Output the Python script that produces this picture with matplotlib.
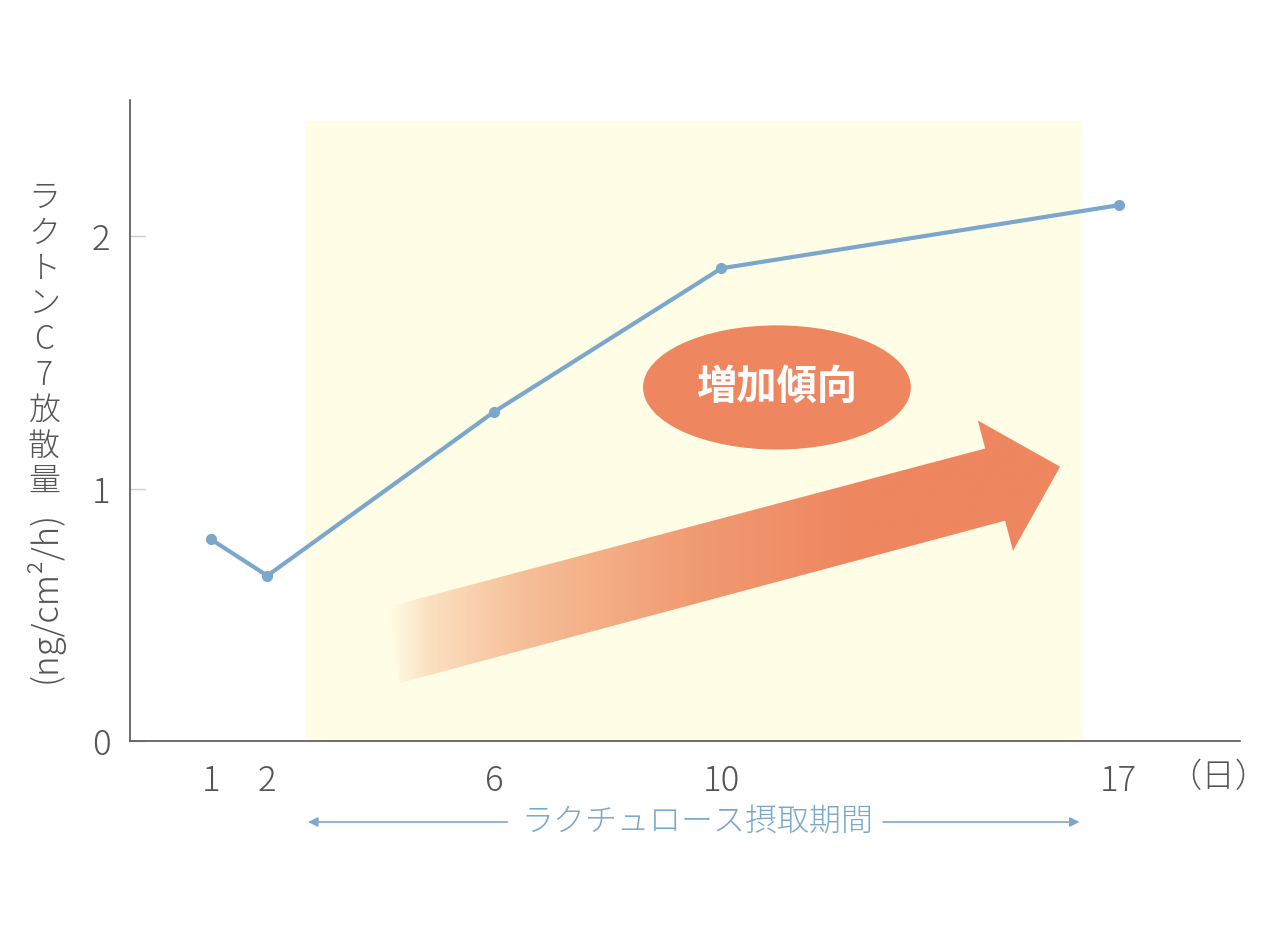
import matplotlib
matplotlib.use("Agg")
import matplotlib.pyplot as plt
import numpy as np
from matplotlib.patches import Polygon, Ellipse
from matplotlib.colors import LinearSegmentedColormap

plt.rcParams['font.family'] = ['Noto Sans CJK JP', 'DejaVu Sans']
plt.rcParams['font.weight'] = 'light'

# data
days = [1, 2, 6, 10, 17]
values = [0.80, 0.655, 1.305, 1.873, 2.123]
yticks = [0, 1, 2]
period = (2.67, 16.36)   # ラクチュロース摂取期間 (shaded)

line_col = '#7ba7cc'
orange = '#ee8660'
shade_col = '#fffde6'
text_col = '#555555'

fig = plt.figure(figsize=(12.8, 9.44), dpi=100)
ax = fig.add_axes([130/1280, 1-741/944, 1110/1280, 641/944])
ax.set_xlim(-0.42, 19.14)
ax.set_ylim(0, 2.54)

# shaded intake period
ax.fill_between(period, 0, 2.456, color=shade_col, lw=0, zorder=0)

# gradient arrow (decoration)
arrow_pts = [(4.13, 0.532), (14.65, 1.159), (14.52, 1.270), (15.97, 1.087),
             (15.14, 0.754), (15.0, 0.873), (4.34, 0.230)]
poly = Polygon(arrow_pts, closed=True, facecolor='none', edgecolor='none')
ax.add_patch(poly)
cmap = LinearSegmentedColormap.from_list(
    'grad', [(0, shade_col), (0.06, '#fbe0c0'), (0.2, '#f6bf98'),
             (0.45, '#f19b73'), (0.7, orange), (1, orange)])
grad = np.linspace(0, 1, 400).reshape(1, -1)
im = ax.imshow(grad, cmap=cmap, extent=[4.13, 15.97, 0.23, 1.27],
               aspect='auto', zorder=1, interpolation='bilinear')
im.set_clip_path(poly)

# ellipse label
ax.add_patch(Ellipse((10.98, 1.401), 4.72, 0.492, facecolor=orange,
                     edgecolor='none', zorder=2))
ax.text(10.98, 1.401, '増加傾向', color='white', fontsize=29, fontweight='bold',
        ha='center', va='center', zorder=3)

# data line
ax.plot(days, values, color=line_col, lw=3, marker='o', ms=7, zorder=4)

# axes styling
for s in ['top', 'right']:
    ax.spines[s].set_visible(False)
for s in ['left', 'bottom']:
    ax.spines[s].set_color('#555555')
    ax.spines[s].set_linewidth(1.2)
ax.set_facecolor('none')

ax.set_xticks(days)
ax.set_xticklabels([str(d) for d in days])
ax.set_yticks(yticks)
ax.set_yticklabels([str(t) for t in yticks])
ax.tick_params(axis='x', length=0, pad=16, labelsize=25, labelcolor=text_col)
ax.tick_params(axis='y', direction='in', length=11, width=1, color='#cccccc',
               pad=14, labelsize=25, labelcolor=text_col)

ax.text(18.75, -0.147, '（日）', fontsize=24, color=text_col, ha='center',
        va='center', clip_on=False)

# period annotation under axis
ax.text(9.57, -0.321, 'ラクチュロース摂取期間', fontsize=23, color=line_col,
        ha='center', va='center', clip_on=False)
arrow_kw = dict(arrowstyle='-|>', color=line_col, lw=1.2, mutation_scale=14)
ax.annotate('', xy=(period[0], -0.321), xytext=(6.28, -0.321),
            arrowprops=arrow_kw, annotation_clip=False)
ax.annotate('', xy=(period[1], -0.321), xytext=(12.8, -0.321),
            arrowprops=arrow_kw, annotation_clip=False)

# vertical y label
ylab_chars = ['ラ', 'ク', 'ト', 'ン', 'C', '7', '放', '散', '量']
for i, ch in enumerate(ylab_chars):
    fig.text(44/1280, 1 - (198 + i*35.5)/944, ch, fontsize=23, color=text_col,
             ha='center', va='center')
fig.text(44/1280, 1 - 597/944, '(ng/cm²/h)', fontsize=25, color=text_col,
         ha='center', va='center', rotation=90)

fig.savefig('out.png', dpi=100)
